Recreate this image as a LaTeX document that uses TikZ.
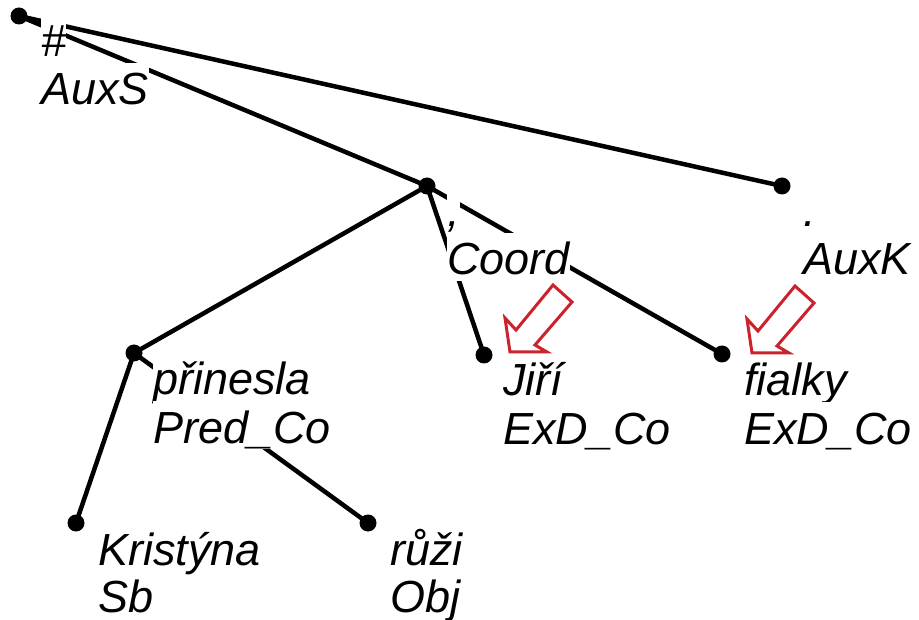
\documentclass[tikz,border=0pt]{standalone}
\usepackage{fontspec}
\setmainfont{Liberation Sans}
\definecolor{arrowred}{RGB}{204,34,44}
\begin{document}
\begin{tikzpicture}[x=1pt,y=-1pt,
  edge/.style={line width=4.5pt},
  dot/.style={circle,fill=black,inner sep=0pt,minimum size=17pt},
  lab/.style={anchor=base west,fill=white,inner sep=0pt,text height=42pt,text depth=6pt,font=\fontsize{45}{48}\selectfont\itshape},
  hollow/.style={draw=arrowred,line width=3pt,line join=miter}]
\useasboundingbox (0,0) rectangle (919,620);
% node positions
\coordinate (root) at (19,16);
\coordinate (coord) at (427,186);
\coordinate (auxk) at (782,186);
\coordinate (prinesla) at (134,353);
\coordinate (jiri) at (484,355);
\coordinate (fialky) at (722,354);
\coordinate (kristyna) at (76,523);
\coordinate (ruzi) at (368,523);
% edges
\draw[edge] (root) -- (coord);
\draw[edge] (root) -- (auxk);
\draw[edge] (coord) -- (prinesla);
\draw[edge] (coord) -- (jiri);
\draw[edge] (coord) -- (fialky);
\draw[edge] (prinesla) -- (kristyna);
\draw[edge] (prinesla) -- (ruzi);
% labels
\node[lab] (rootw) at (41,57) {\#};
\node[lab] (roota) at (41,105) {AuxS};
\node[lab] (coordw) at (447,227) {,};
\node[lab] (coorda) at (447,275) {Coord};
\node[lab] (auxkw) at (803,227) {.};
\node[lab] (auxka) at (803,275) {AuxK};
\node[lab] (prineslaw) at (153,395) {přinesla};
\node[lab] (prineslaa) at (153,443) {Pred\_Co};
\node[lab] (jiriw) at (503,396) {Jiří};
\node[lab] (jiria) at (503,444) {ExD\_Co};
\node[lab] (fialkyw) at (744,396) {fialky};
\node[lab] (fialkya) at (744,444) {ExD\_Co};
\node[lab] (kristynaw) at (98,565) {Kristýna};
\node[lab] (kristynaa) at (98,612) {Sb};
\node[lab] (ruziw) at (390,565) {růži};
\node[lab] (ruzia) at (390,612) {Obj};
% dots
\foreach \n in {root,coord,auxk,prinesla,jiri,fialky,kristyna,ruzi}
  \node[dot] (\n dot) at (\n) {};
% red hollow arrows
\draw[hollow,shift={(510,352)}] (0,0) -- (-5,-34) -- (6,-22) -- (43,-67) -- (62,-50) -- (25,-7) -- (37,0) -- cycle;
\draw[hollow,shift={(752,353)}] (0,0) -- (-5,-34) -- (6,-22) -- (43,-67) -- (62,-50) -- (25,-7) -- (37,0) -- cycle;
\end{tikzpicture}
\end{document}
